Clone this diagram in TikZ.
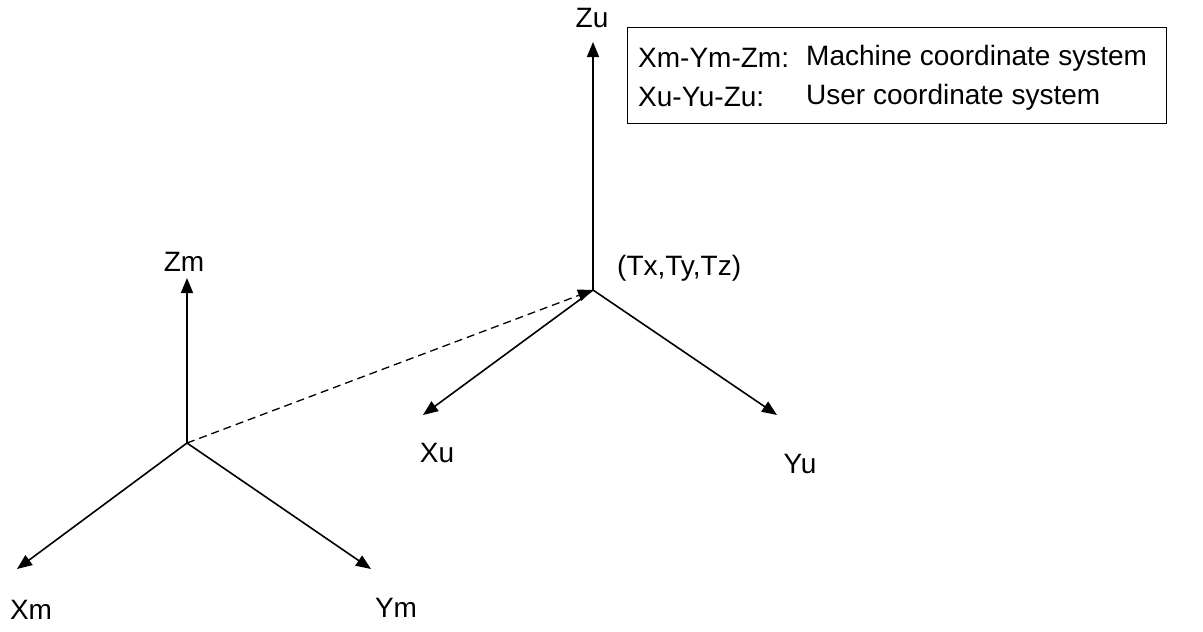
\documentclass[tikz,border=0pt]{standalone}
\usepackage{fontspec}
\setmainfont{Liberation Sans}
\usetikzlibrary{arrows.meta}
\begin{document}
\begin{tikzpicture}[x=1pt,y=-1pt,
  axis/.style={line width=1.6pt,-{Triangle[length=15pt,width=12pt]}},
  offsetline/.style={line width=1.3pt,dash pattern=on 8pt off 5pt,-{Triangle[length=15pt,width=12pt]}},
  lbl/.style={inner sep=0pt,font=\fontsize{28}{34}\selectfont},
  legendbox/.style={draw,line width=1.4pt}]
\useasboundingbox (0,0) rectangle (1203,632);

% machine frame
\coordinate (om) at (187,443);
\coordinate (zm) at (187,278);
\coordinate (xm) at (17,569);
\coordinate (ym) at (371,569);
\draw[axis] (om) -- (zm);
\draw[axis] (om) -- (xm);
\draw[axis] (om) -- (ym);
\node[lbl] (lzm) at (184,262) {Zm};
\node[lbl] (lxm) at (31,610) {Xm};
\node[lbl] (lym) at (396,608) {Ym};

% user frame
\coordinate (ou) at (593,290);
\coordinate (zu) at (593,42);
\coordinate (xu) at (423,415);
\coordinate (yu) at (777,415);
\draw[axis] (ou) -- (zu);
\draw[axis] (ou) -- (xu);
\draw[axis] (ou) -- (yu);
\node[lbl] (lzu) at (592,18) {Zu};
\node[lbl] (lxu) at (437,453) {Xu};
\node[lbl] (lyu) at (800,464) {Yu};
\node[lbl,anchor=west] (lt) at (617,268) {(Tx,Ty,Tz)};

% translation between the origins
\draw[offsetline] (om) -- (ou);

% legend
\node[legendbox,minimum width=539pt,minimum height=96pt,anchor=north west] (legend) at (627,27) {};
\node[lbl,anchor=west] (k1) at (638,58) {Xm-Ym-Zm:};
\node[lbl,anchor=west] (v1) at (806,58) {Machine coordinate system};
\node[lbl,anchor=west] (k2) at (638,97) {Xu-Yu-Zu:};
\node[lbl,anchor=west] (v2) at (806,97) {User coordinate system};
\end{tikzpicture}
\end{document}
